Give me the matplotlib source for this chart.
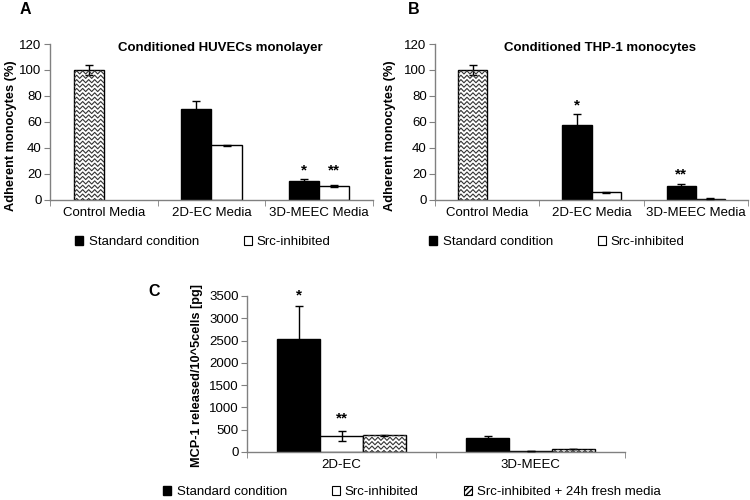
import numpy as np
import matplotlib
matplotlib.use("Agg")
import matplotlib.pyplot as plt
from matplotlib.patches import Patch
from matplotlib.lines import Line2D

plt.rcParams['font.family'] = ['Liberation Sans', 'DejaVu Sans']

# ---------------- data ----------------
cats_ab = ["Control Media", "2D-EC Media", "3D-MEEC Media"]
# Panel A
a_std = [100, 70, 15]
a_std_err = [4, 6, 1.5]
a_src = [0, 42, 11]
a_src_err = [0, 0.6, 0.8]
# Panel B
b_std = [100, 58, 11]
b_std_err = [4, 8, 1]
b_src = [0, 6, 1]
b_src_err = [0, 0.4, 0.2]
# Panel C
cats_c = ["2D-EC", "3D-MEEC"]
c_std = [2530, 310]
c_std_err = [750, 45]
c_src = [355, 20]
c_src_err = [110, 5]
c_fresh = [375, 65]
c_fresh_err = [15, 8]

GRAY = '#808080'
ZZ = []  # bars to receive zigzag fill


def style_axes(ax, ymax, ystep):
    for s in ['top', 'right']:
        ax.spines[s].set_visible(False)
    for s in ['left', 'bottom']:
        ax.spines[s].set_color(GRAY)
        ax.spines[s].set_linewidth(1.0)
    ax.set_ylim(0, ymax)
    ax.set_yticks(np.arange(0, ymax + 1, ystep))
    ax.tick_params(axis='y', direction='out', length=4, color=GRAY, labelsize=9.5, pad=2)
    ax.tick_params(axis='x', which='major', length=0, labelsize=9.5, pad=5)
    ax.tick_params(axis='x', which='minor', direction='out', length=4, color=GRAY)


def panel_ab(rect, std, std_err, src, src_err, title, stars, ylab_x):
    ax = fig.add_axes(rect)
    x = np.arange(len(cats_ab))
    w = 0.28
    bars_std = ax.bar(x - w / 2, std, w, color='black', edgecolor='black', linewidth=1, zorder=2)
    # control bar is patterned
    bars_std[0].set_facecolor('white')
    ZZ.append((ax, bars_std[0]))
    ax.bar(x[1:] + w / 2, src[1:], w, color='white', edgecolor='black', linewidth=1, zorder=2)
    ax.errorbar(x - w / 2, std, yerr=std_err, fmt='none', ecolor='black', elinewidth=1,
                capsize=3, capthick=1, zorder=3)
    ax.errorbar(x[1:] + w / 2, src[1:], yerr=src_err[1:], fmt='none', ecolor='black',
                elinewidth=1, capsize=3, capthick=1, zorder=3)
    ax.set_xlim(-0.5, 2.5)
    ax.set_xticks(x)
    ax.set_xticklabels(cats_ab)
    ax.set_xticks([-0.5, 0.5, 1.5, 2.5], minor=True)
    style_axes(ax, 120, 20)
    ax.set_ylabel("Adherent monocytes (%)", fontsize=9.2, fontweight='bold')
    ax.yaxis.set_label_coords(ylab_x, 0.41)
    ax.text(0.527, 0.974, title, transform=ax.transAxes, ha='center', va='center',
            fontsize=9.5, fontweight='bold')
    for (xx, yy, s) in stars:
        ax.text(xx, yy, s, ha='center', va='center', fontsize=11, fontweight='bold')
    return ax


fig = plt.figure(figsize=(7.5, 5), dpi=100)

axA = panel_ab([50 / 750, 0.6, 323 / 750, 0.312], a_std, a_std_err, a_src, a_src_err,
               "Conditioned HUVECs monolayer",
               [(2 - 0.14, 23, '*'), (2 + 0.14, 23, '**')], -0.102)
axB = panel_ab([435 / 750, 0.6, 313 / 750, 0.312], b_std, b_std_err, b_src, b_src_err,
               "Conditioned THP-1 monocytes",
               [(1 - 0.14, 73, '*'), (2 - 0.14, 20, '**')], -0.125)

# Panel C
axC = fig.add_axes([247 / 750, 0.096, 378 / 750, 0.312])
xc = np.arange(len(cats_c))
wc = 0.227
axC.bar(xc - wc, c_std, wc, color='black', edgecolor='black', linewidth=1, zorder=2)
axC.bar(xc, c_src, wc, color='white', edgecolor='black', linewidth=1, zorder=2)
fb = axC.bar(xc + wc, c_fresh, wc, color='white', edgecolor='black', linewidth=1, zorder=2)
for b in fb:
    ZZ.append((axC, b))
for off, v, e in [(-wc, c_std, c_std_err), (0, c_src, c_src_err), (wc, c_fresh, c_fresh_err)]:
    axC.errorbar(xc + off, v, yerr=e, fmt='none', ecolor='black', elinewidth=1,
                 capsize=3, capthick=1, zorder=3)
axC.set_xlim(-0.5, 1.5)
axC.set_xticks(xc)
axC.set_xticklabels(cats_c)
axC.set_xticks([-0.5, 0.5, 1.5], minor=True)
style_axes(axC, 3500, 500)
axC.set_ylabel("MCP-1 released/10^5cells [pg]", fontsize=9.2, fontweight='bold')
axC.yaxis.set_label_coords(-0.116, 0.49)
axC.text(-wc, 3520, '*', ha='center', va='center', fontsize=11, fontweight='bold', clip_on=False)
axC.text(0, 760, '**', ha='center', va='center', fontsize=11, fontweight='bold')

# panel letters
fig.text(20 / 750, 1 - 10 / 500, 'A', fontsize=11.5, fontweight='bold', va='center')
fig.text(408 / 750, 1 - 10 / 500, 'B', fontsize=11.5, fontweight='bold', va='center')
fig.text(148 / 750, 1 - 291 / 500, 'C', fontsize=11.5, fontweight='bold', va='center')

# legends
h_std = Patch(facecolor='black', edgecolor='black')
h_src = Patch(facecolor='white', edgecolor='black', linewidth=0.8)
h_fresh = Patch(facecolor='white', edgecolor='black', hatch='//////', linewidth=0.8)
lkw = dict(frameon=False, handlelength=0.6, handleheight=0.6, handletextpad=0.4,
           fontsize=9.5, loc='center', borderaxespad=0)
fig.legend([h_std, h_src], ["Standard condition", "Src-inhibited"], ncol=2,
           columnspacing=3.4, bbox_to_anchor=(203 / 750, 1 - 242 / 500), **lkw)
fig.legend([h_std, h_src], ["Standard condition", "Src-inhibited"], ncol=2,
           columnspacing=3.4, bbox_to_anchor=(557 / 750, 1 - 242 / 500), **lkw)
fig.legend([h_std, h_src, h_fresh],
           ["Standard condition", "Src-inhibited", "Src-inhibited + 24h fresh media"], ncol=3,
           columnspacing=3.4, bbox_to_anchor=(412 / 750, 1 - 492 / 500), **lkw)

# zigzag pattern fill, computed from each bar's drawn extent
fig.canvas.draw()
for ax, bar in ZZ:
    bb = bar.get_window_extent()
    period, amp, gap = 6.0, 1.6, 4.4
    xs = np.arange(bb.x0 - period, bb.x1 + period, period / 2)
    zig = np.where((np.arange(len(xs)) % 2) == 0, -amp, amp)
    y = bb.y0 - gap
    while y < bb.y1 + gap:
        ln = Line2D(xs, y + zig, transform=None, color='#333333', linewidth=0.8, zorder=2.5)
        ln.set_clip_path(bar)
        fig.add_artist(ln)
        y += gap

fig.savefig("out.png", dpi=100)
